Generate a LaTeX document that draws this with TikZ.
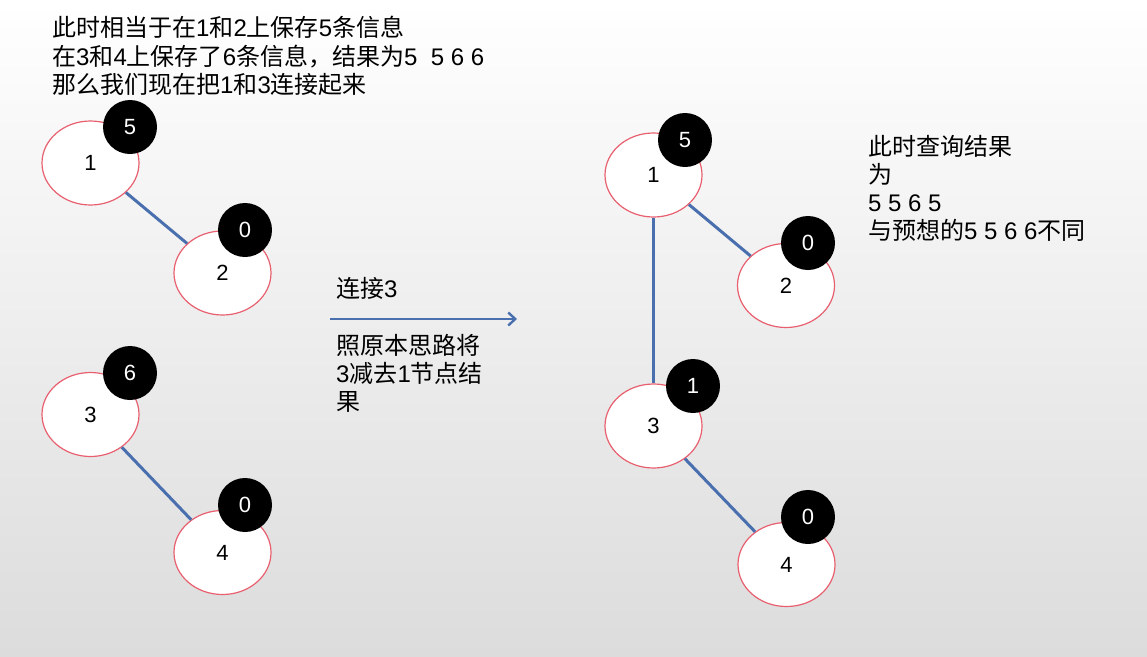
\documentclass[tikz,border=0pt]{standalone}
\usepackage{fontspec}
\setmainfont{Liberation Sans}
\newfontfamily\cjk{Noto Sans CJK SC}
\newcommand{\zh}[1]{{\cjk #1}}
\usetikzlibrary{arrows.meta,shapes.geometric}
\definecolor{ringred}{HTML}{E8606F}
\definecolor{edgeblue}{HTML}{4A6FAE}
\definecolor{bgbottom}{HTML}{DCDCDC}
\begin{document}
\begin{tikzpicture}[x=1pt,y=-1pt,
  vert/.style={ellipse, draw=ringred, line width=1.2pt, fill=white, minimum width=97pt, minimum height=84pt, inner sep=0pt, font=\fontsize{22}{26}\selectfont},
  badge/.style={circle, fill=black, minimum size=54pt, inner sep=0pt, text=white, font=\fontsize{22}{26}\selectfont},
  link/.style={draw=edgeblue, line width=3pt},
  txt/.style={anchor=base west, inner sep=0pt, font=\fontsize{24}{28}\selectfont}]
\useasboundingbox (0,0) rectangle (1147,656);
\shade[top color=white, bottom color=bgbottom] (0,0) rectangle (1147,656);

% top-left text
\node[txt] (t1) at (52,36) {\zh{此时相当于在}1\zh{和}2\zh{上保存}5\zh{条信息}};
\node[txt] (t2) at (52,65) {\zh{在}3\zh{和}4\zh{上保存了}6\zh{条信息，结果为}5\ \ 5 6 6};
\node[txt] (t3) at (52,93) {\zh{那么我们现在把}1\zh{和}3\zh{连接起来}};

% left graphs
\node[vert] (a1) at (90.5,163) {1};
\node[vert] (a2) at (222.5,273) {2};
\node[vert] (a3) at (90.5,414.5) {3};
\node[vert] (a4) at (222.5,552.5) {4};
\draw[link] (a1) -- (a2);
\draw[link] (a3) -- (a4);
\node[badge] (b1) at (130,127) {5};
\node[badge] (b2) at (245,230) {0};
\node[badge] (b3) at (130,373) {6};
\node[badge] (b4) at (245,505) {0};

% arrow and its labels
\coordinate (arS) at (330,319);
\coordinate (arE) at (517,319);
\draw[draw=edgeblue, line width=2.6pt, -{Straight Barb[length=7pt,width=13pt,line width=2.4pt]}] (arS) -- (arE);
\node[txt] (m1) at (336,297) {\zh{连接}3};
\node[txt] (m2) at (336,354) {\zh{照原本思路将}};
\node[txt] (m3) at (336,382) {3\zh{减去}1\zh{节点结}};
\node[txt] (m4) at (336,410) {\zh{果}};

% right graph
\node[vert] (r1) at (653.5,175) {1};
\node[vert] (r2) at (786,285.5) {2};
\node[vert] (r3) at (653.5,426) {3};
\node[vert] (r4) at (786.5,564.5) {4};
\draw[link] (r1) -- (r2);
\draw[link] (r1) -- (r3);
\draw[link] (r3) -- (r4);
\node[badge] (c1) at (685,140) {5};
\node[badge] (c2) at (808,243) {0};
\node[badge] (c3) at (693,386) {1};
\node[badge] (c4) at (808,517) {0};

% right text
\node[txt] (s1) at (868,155) {\zh{此时查询结果}};
\node[txt] (s2) at (868,183) {\zh{为}};
\node[txt] (s3) at (868,211) {5 5 6 5};
\node[txt] (s4) at (868,239.5) {\zh{与预想的}5 5 6 6\zh{不同}};
\end{tikzpicture}
\end{document}
